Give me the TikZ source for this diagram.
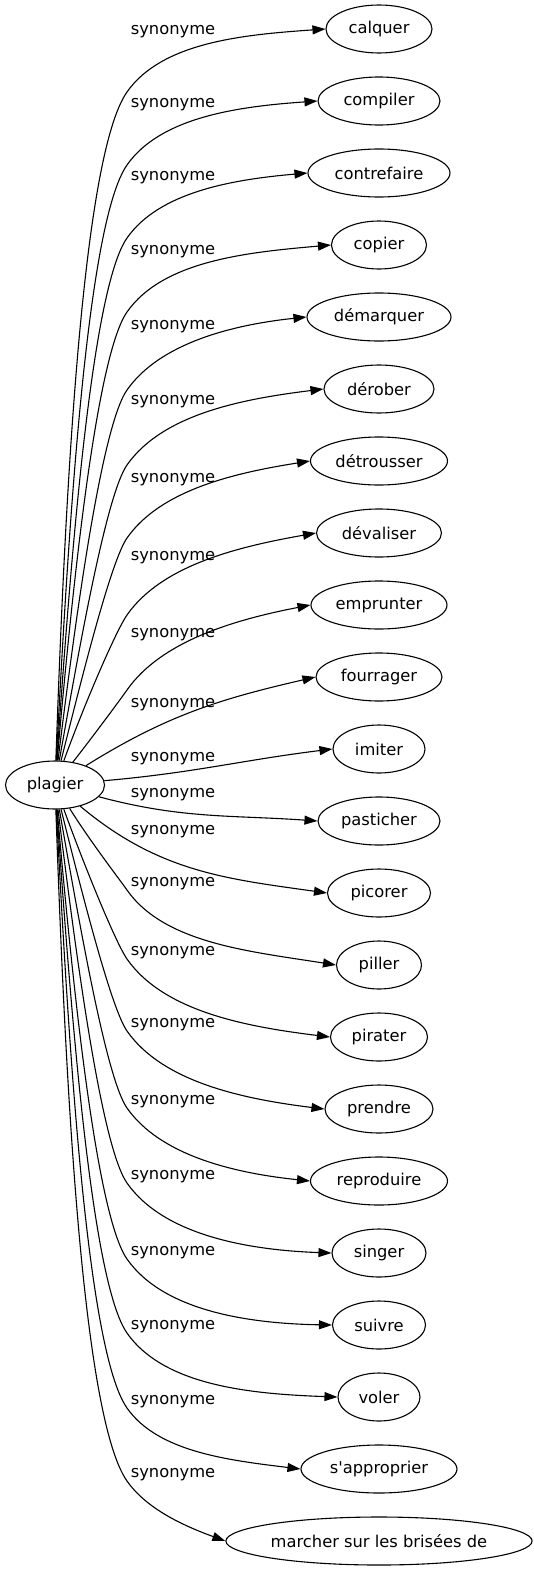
\documentclass[tikz,border=0pt]{standalone}
\usepackage{fontspec}
\setmainfont{DejaVu Sans}
\usetikzlibrary{shapes.geometric,arrows.meta}

\begin{document}
\begin{tikzpicture}[x=1pt,y=-1pt,line width=1.1pt,>={Triangle[length=13pt,width=9pt]},
        font=\fontsize{16.3}{19}\selectfont]
        \tikzstyle{word}=[ellipse,draw,minimum height=48pt,inner sep=0pt]
        \tikzstyle{annot}=[inner sep=0pt]
        \tikzstyle{syn}=[->]
        \useasboundingbox (0,0) rectangle (534,1571);

        % Draw the headword
        \node[word,minimum width=99pt] (plagier) at (55,785) {plagier};

        % Draw the synonym nodes, one row each
        \foreach \name / \w [count=\i from 0] in {calquer/106,compiler/122,contrefaire/142,
            copier/95,démarquer/144,dérober/110,détrousser/137,dévaliser/125,emprunter/136,
            fourrager/126,imiter/92,pasticher/122,picorer/103,piller/85,pirater/97,
            prendre/108,reproduire/137,singer/94,suivre/93,voler/82,
            s\textquotesingle approprier/156,{marcher sur les brisées de}/298}
            \node[word,minimum width=\w pt] (S-\i) at (379,{29+72*\i}) {\name};

        % Connect the headword with the upper synonyms
        \foreach \i / \by / \o / \a in {0/92/88/184,1/165/87/184,2/238/86/185,
            3/312/85/185,4/390/83/186,5/465/80/187,6/538/76/189,7/615/70/190,8/690/52/191}
            \draw[syn] (plagier) to[out=\o,in=235,in looseness=0.3] (127,\by)
                to[out=55,in=\a,out looseness=0.75] (S-\i.west);

        % the ones next to the headword
        \draw[syn] (plagier) to[out=32,in=193] (S-9.west);
        \draw[syn] (plagier) to[out=5,in=187] (S-10.west);
        \draw[syn] (plagier) to[out=-15,in=176] (S-11.west);
        \draw[syn] (plagier) to[out=-40,in=172] (S-12.west);

        % Connect the headword with the lower synonyms
        \foreach \i / \by / \o / \a in {13/890/-58/171,14/959/-70/173,15/1031/-76/173,
            16/1108/-80/174,17/1183/-83/178,18/1259/-85/179,19/1333/-86/178,
            20/1408/-87/173,21/1481/-88/160}
            \draw[syn] (plagier) to[out=\o,in=125,in looseness=0.3] (127,\by)
                to[out=-55,in=\a,out looseness=0.75] (S-\i.west);

        % Annotate the edges
        \foreach \y [count=\i from 0] in {32,105,178,252,327,402,480,558,635,705,759,
            795,832,884,953,1025,1102,1177,1253,1327,1402,1475}
            \node[annot] (L-\i) at (173,\y) {synonyme};
\end{tikzpicture}
\end{document}
